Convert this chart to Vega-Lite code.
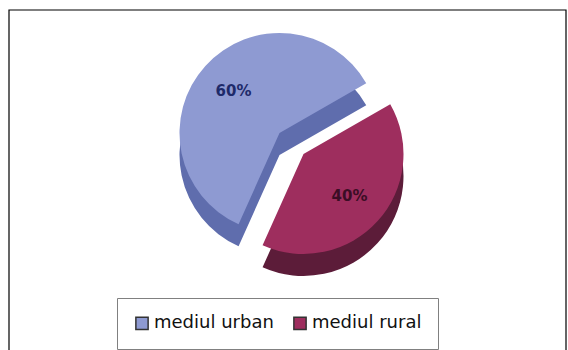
{
  "$schema": "https://vega.github.io/schema/vega-lite/v6.json",
  "width": 557,
  "height": 340,
  "padding": {"left": 9, "top": 10, "right": 2, "bottom": 0},
  "autosize": {"type": "none"},
  "background": "white",
  "config": {
    "view": {"stroke": null},
    "font": "DejaVu Sans"
  },
  "data": {
    "values": [
      {"zona": "mediul urban", "pondere": 0.6},
      {"zona": "mediul rural", "pondere": 0.4}
    ]
  },
  "layer": [
    {
      "data": {"values": [{"cadru": 1}]},
      "mark": {
        "type": "rect",
        "fill": null,
        "stroke": "#000000",
        "strokeWidth": 1.2,
        "y2Offset": 4
      },
      "encoding": {
        "x": {"value": 0},
        "x2": {"value": "width"},
        "y": {"value": 0},
        "y2": {"value": "height"}
      }
    },
    {
      "mark": {
        "type": "arc",
        "outerRadius": 100,
        "xOffset": {"expr": "datum.zona === 'mediul rural' ? 16 : -8"},
        "yOffset": {"expr": "datum.zona === 'mediul rural' ? -4 : -25"}
      },
      "encoding": {
        "theta": {"field": "pondere", "type": "quantitative", "stack": true, "scale": {"range": [1.05, 7.333]}},
        "order": {"field": "pondere", "sort": "ascending"},
        "fill": {"condition": {"test": "datum.zona === 'mediul urban'", "value": "#5F6DAD"}, "value": "#5C1C39"}
      }
    },
    {
      "mark": {
        "type": "arc",
        "outerRadius": 100,
        "xOffset": {"expr": "datum.zona === 'mediul rural' ? 16 : -8"},
        "yOffset": {"expr": "datum.zona === 'mediul rural' ? -26 : -47"}
      },
      "encoding": {
        "theta": {"field": "pondere", "type": "quantitative", "stack": true, "scale": {"range": [1.05, 7.333]}},
        "order": {"field": "pondere", "sort": "ascending"},
        "color": {
          "field": "zona",
          "type": "nominal",
          "scale": {"domain": ["mediul urban", "mediul rural"], "range": ["#8E9AD2", "#9E2E5E"]},
          "legend": {
            "title": null,
            "orient": "none",
            "direction": "horizontal",
            "legendX": 108,
            "legendY": 288,
            "padding": 16,
            "strokeColor": "#808080",
            "fillColor": "white",
            "symbolType": "square",
            "symbolSize": 150,
            "symbolStrokeColor": "#333333",
            "symbolStrokeWidth": 1.5,
            "symbolOpacity": 1,
            "labelFontSize": 18,
            "labelColor": "#111111",
            "labelFont": "DejaVu Sans",
            "labelOffset": 3,
            "columnPadding": 16
          }
        }
      }
    },
    {
      "mark": {
        "type": "text",
        "radius": 62,
        "fontSize": 15,
        "fontWeight": "bold",
        "font": "DejaVu Sans",
        "xOffset": {"expr": "datum.zona === 'mediul rural' ? 16 : -8"},
        "yOffset": {"expr": "datum.zona === 'mediul rural' ? -26 : -47"}
      },
      "encoding": {
        "theta": {"field": "pondere", "type": "quantitative", "stack": true, "scale": {"range": [1.05, 7.333]}},
        "order": {"field": "pondere", "sort": "ascending"},
        "text": {"field": "pondere", "type": "quantitative", "format": ".0%"},
        "fill": {"condition": {"test": "datum.zona === 'mediul urban'", "value": "#1E2A6A"}, "value": "#3B0D25"}
      }
    }
  ]
}
